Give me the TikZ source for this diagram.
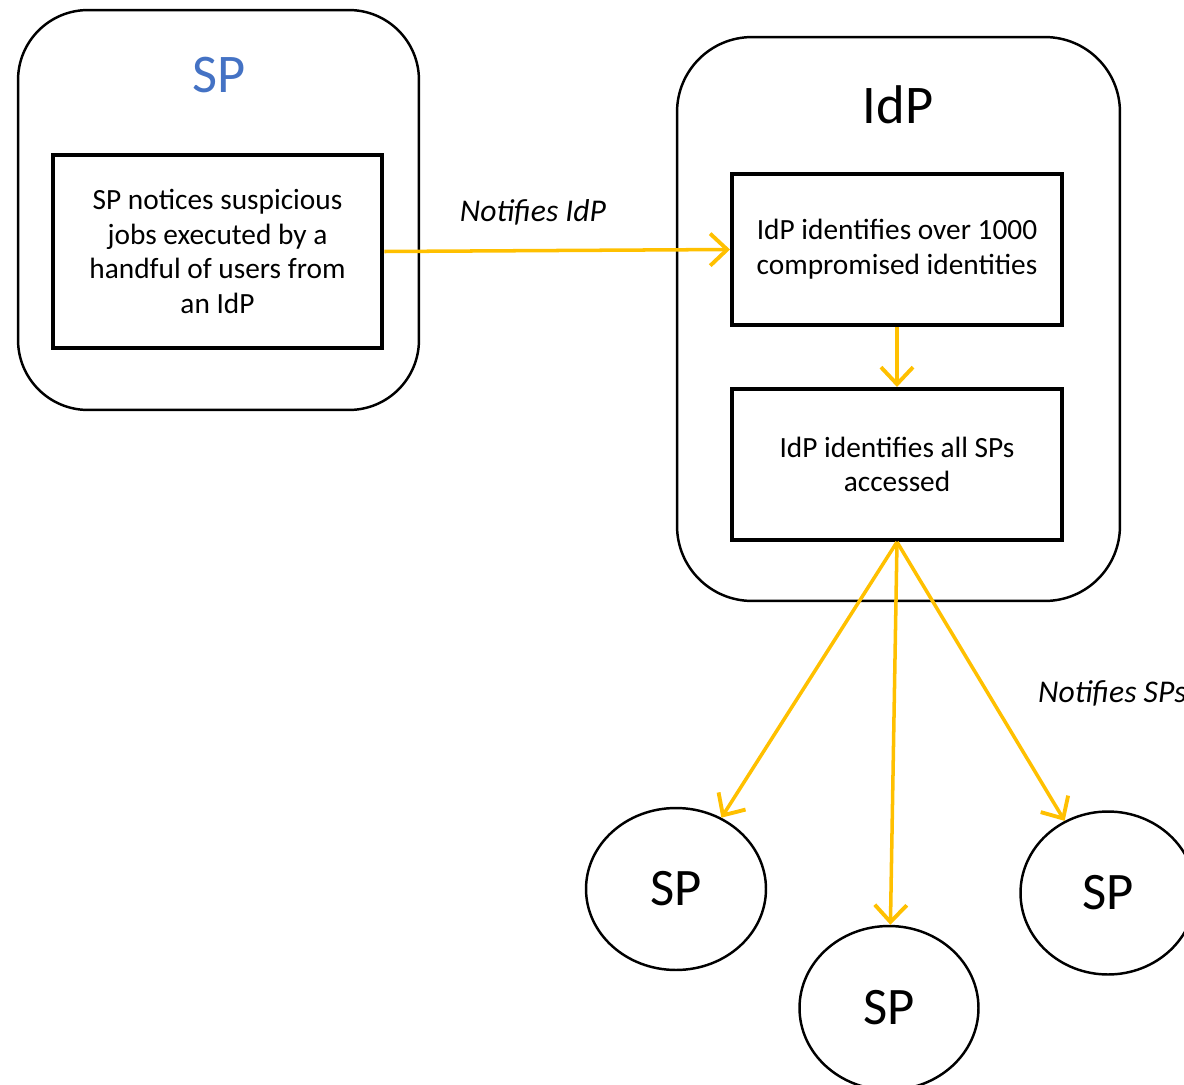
\documentclass[tikz,border=0pt]{standalone}
\usepackage{fontspec}
\setmainfont{Carlito}
\usetikzlibrary{arrows.meta,shapes.geometric}
\definecolor{titleblue}{HTML}{4472C4}
\definecolor{arrowc}{HTML}{FFC000}
\tikzset{
  frame/.style={draw, line width=1.4pt, rounded corners=1.4cm},
  stepbox/.style={draw, line width=2.3pt, align=center,
    minimum width=6.6cm, font=\fontsize{16.7}{19.8}\selectfont},
  title/.style={font=\fontsize{31}{34}\selectfont},
  spnode/.style={draw, ellipse, line width=1.4pt, inner sep=0pt,
    font=\fontsize{30}{34}\selectfont},
  flow/.style={draw=arrowc, line width=2pt,
    -{Straight Barb[length=3.4mm,width=6.4mm,line width=2.2pt]}},
  lbl/.style={font=\fontsize{18}{21}\selectfont\itshape},
}
\begin{document}
\begin{tikzpicture}[x=0.02cm, y=-0.02cm]
    \clip (0,0) rectangle (1184,1085);

    % SP side
    \node[frame, minimum width=8.02cm, minimum height=8cm] (spframe) at (218.5,210) {};
    \node[title, text=titleblue] (sptitle) at (219,75) {SP};
    \node[stepbox, minimum height=3.86cm] (spbox) at (217.5,251.5)
        {SP notices suspicious\\jobs executed by a\\handful of users from\\an IdP};

    % IdP side
    \node[frame, rounded corners=1.5cm, minimum width=8.86cm, minimum height=11.28cm] (idpframe) at (898.5,319) {};
    \node[title] (idptitle) at (898,105) {IdP};
    \node[stepbox, minimum height=3.02cm] (identify) at (897,249.5)
        {IdP identifies over 1000\\compromised identities};
    \node[stepbox, minimum height=3.02cm] (accessed) at (897,464.5)
        {IdP identifies all SPs\\accessed};

    % Other SPs
    \node[spnode, minimum width=3.6cm, minimum height=3.24cm] (spa) at (676,889) {SP};
    \node[spnode, minimum width=3.58cm, minimum height=3.28cm] (spb) at (889,1008) {SP};
    \node[spnode, minimum width=3.5cm, minimum height=3.26cm] (spc) at (1108,893) {SP};

    % Arrows
    \draw[flow] (spbox.east) -- (identify.west);
    \draw[flow] (identify.south) -- (accessed.north);
    \draw[flow] (accessed.south) -- (spa);
    \draw[flow] (accessed.south) -- (spb);
    \draw[flow] (accessed.south) -- (spc);

    % Labels
    \node[lbl] (notidp) at (533,212) {Notifies IdP};
    \node[lbl, anchor=west] (notsps) at (1032,693) {Notifies SPs};
\end{tikzpicture}
\end{document}
